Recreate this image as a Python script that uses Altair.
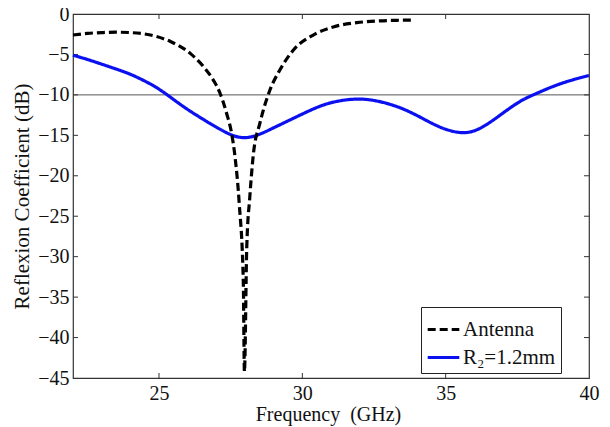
import altair as alt
import pandas as pd

ant_f = [22, 22.5, 23, 23.5, 24, 24.7, 25.4, 26.1, 26.55, 26.9, 27.13, 27.36, 27.53, 27.65, 27.8,
         27.94, 27.98, 28.06, 28.17, 28.29, 28.52, 28.87, 29.22, 29.69, 30.38, 31.08, 31.9, 32.7,
         33.3, 33.9]
ant_v = [-2.6, -2.4, -2.3, -2.25, -2.3, -2.6, -3.4, -4.9, -6.5, -8.2, -9.8, -12.3, -14.7, -17.6, -23.5,
         -33.0, -44.2, -29.0, -22.5, -17.4, -13.5, -9.4, -6.9, -4.45, -2.6, -1.6, -1.07, -0.85,
         -0.78, -0.75]

r2_f = [22, 22.5, 23, 23.5, 24, 24.69, 25.15, 25.85, 26.66, 27.48, 27.94, 28.4, 28.98, 29.57, 30.15,
        30.85, 31.66, 32.2, 32.71, 33.4, 34.1, 34.8, 35.6, 36.2, 36.9, 37.6, 38.06, 38.75, 39.45, 40]
r2_v = [-5.1, -5.6, -6.2, -6.8, -7.4, -8.6, -9.6, -11.5, -13.3, -15.0, -15.4, -15.1, -14.1, -13.1, -12.1,
        -11.0, -10.5, -10.5, -10.8, -11.5, -12.7, -14.1, -14.9, -14.3, -12.5, -10.7, -10.0, -8.9, -8.1, -7.6]

series_names = ["Antenna", "R\u2082=1.2mm"]
x_labels = [25, 30, 35, 40]
x_ticks = [25, 30, 35]
y_labels = [-45, -40, -35, -30, -25, -20, -15, -10, -5, 0]
y_ticks = [-40, -35, -30, -25, -20, -15, -10, -5]
ref_level = -10

W, H = 516, 364
FONT = "Liberation Serif"

ant_df = pd.DataFrame({"f": ant_f, "v": ant_v, "s": series_names[0]})
r2_df = pd.DataFrame({"f": r2_f, "v": r2_v, "s": series_names[1]})

xs = alt.Scale(domain=[22, 40], nice=False, zero=False)
ys = alt.Scale(domain=[-45, 0], nice=False, zero=False)

x_enc = alt.X("f:Q", scale=xs, axis=alt.Axis(
    title="Frequency\u00a0\u00a0(GHz)", values=x_labels, tickSize=0, domain=False, grid=False,
    labelFont=FONT, labelFontSize=20, labelColor="#111", labelPadding=5,
    titleFont=FONT, titleFontSize=20, titleFontWeight="normal", titleColor="#111",
    titleX=255, titleY=36, titleBaseline="middle", labelFlush=False))
y_enc = alt.Y("v:Q", scale=ys, axis=alt.Axis(
    title="Reflexion Coefficient (dB)", values=y_labels,
    tickSize=0, domain=False, grid=False,
    labelFont=FONT, labelFontSize=20, labelColor="#111", labelPadding=4,
    titleFont=FONT, titleFontSize=21, titleFontWeight="normal", titleColor="#111",
    titleX=-51, titleY=H / 2, titleAngle=-90, titleAlign="center", titleBaseline="middle",
    labelFlush=False))
color_enc = alt.Color("s:N", sort=series_names,
                      scale=alt.Scale(domain=series_names, range=["#000000", "#0a10f0"]),
                      legend=alt.Legend(title=None, orient="none", legendX=348, legendY=293,
                                        symbolType="stroke", symbolSize=1000, symbolStrokeWidth=3,
                                        labelFont=FONT, labelFontSize=21, labelColor="#111",
                                        fillColor="white", strokeColor="#222", padding=5,
                                        rowPadding=0, labelOffset=2, cornerRadius=0))
dash_enc = alt.StrokeDash("s:N", sort=series_names,
                          scale=alt.Scale(domain=series_names, range=[[8, 4], [1, 0]]),
                          legend=None)

ant_line = alt.Chart(ant_df).mark_line(interpolate="monotone", strokeWidth=3.2).encode(
    x=x_enc, y=y_enc, color=color_enc, strokeDash=dash_enc)
r2_line = alt.Chart(r2_df).mark_line(interpolate="basis", strokeWidth=3.2).encode(
    x=x_enc, y=y_enc, color=color_enc, strokeDash=dash_enc)

hline = alt.Chart(pd.DataFrame({"y": [ref_level]})).mark_rule(color="#555", strokeWidth=1).encode(
    y=alt.Y("y:Q", scale=ys))

xt = pd.DataFrame({"t": x_ticks})
yt = pd.DataFrame({"t": y_ticks})
tick_style = dict(color="#333", strokeWidth=1)
xb = alt.Chart(xt).mark_rule(**tick_style).encode(x=alt.X("t:Q", scale=xs), y=alt.value(H), y2=alt.value(H - 5))
xtop = alt.Chart(xt).mark_rule(**tick_style).encode(x=alt.X("t:Q", scale=xs), y=alt.value(0), y2=alt.value(5))
yl = alt.Chart(yt).mark_rule(**tick_style).encode(y=alt.Y("t:Q", scale=ys), x=alt.value(0), x2=alt.value(5))
yr = alt.Chart(yt).mark_rule(**tick_style).encode(y=alt.Y("t:Q", scale=ys), x=alt.value(W), x2=alt.value(W - 5))

chart = alt.layer(hline, xb, xtop, yl, yr, r2_line, ant_line).properties(
    width=W, height=H,
    autosize=alt.AutoSizeParams(type="none"),
    padding={"left": 65, "top": 6, "right": 12, "bottom": 50},
    background="white",
).configure_view(stroke="#333", strokeWidth=1.2)

chart.save("out.html", embed_options={"renderer": "svg", "actions": False})
